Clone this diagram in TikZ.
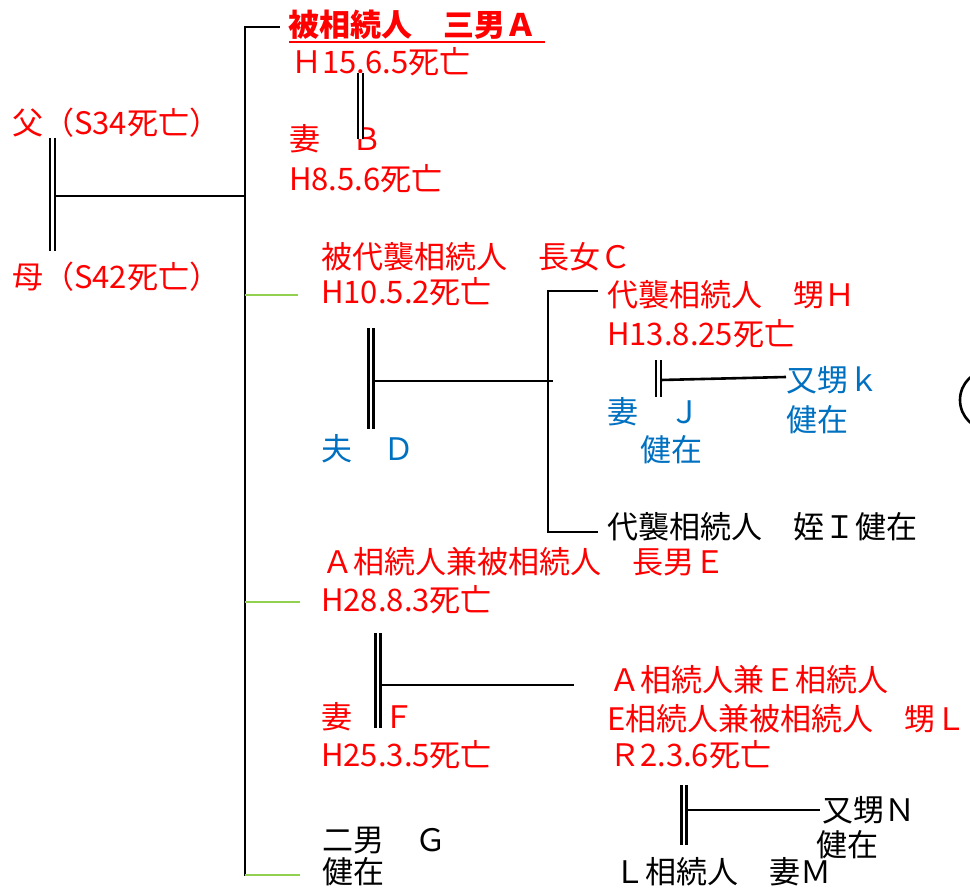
\documentclass[tikz,border=0pt]{standalone}
\usepackage{fontspec}
\setmainfont{Noto Sans CJK JP}
\definecolor{jred}{HTML}{FF0000}
\definecolor{jblue}{HTML}{0070C0}
\definecolor{jgreen}{HTML}{92D050}
\begin{document}
\begin{tikzpicture}[x=1pt,y=-1pt,
  lbl/.style={anchor=base west,inner sep=0pt,font=\fontsize{31}{31}\selectfont},
  rd/.style={lbl,text=jred},
  bl/.style={lbl,text=jblue},
  bk/.style={lbl,text=black},
  ln/.style={line width=2.6pt,black},
  gl/.style={line width=2.8pt,jgreen},
  dbl/.style={line width=2.3pt,double distance=2.6pt,draw=black}]
\useasboundingbox (0,0) rectangle (970,888);
% texts
\node[rd] (fa) at (12,135) {父（S34死亡）};
\node[rd] (mo) at (12,288) {母（S42死亡）};
\node[rd,font=\fontsize{31}{31}\selectfont\bfseries] (A) at (288,37) {被相続人　三男Ａ};
\node[rd] (Ad) at (291,74) {Ｈ15.6.5死亡};
\node[rd] (B) at (289,151) {妻　Ｂ};
\node[rd] (Bd) at (289,190) {H8.5.6死亡};
\node[rd] (C) at (321,268) {被代襲相続人　長女Ｃ};
\node[rd] (Cd) at (321,303) {H10.5.2死亡};
\node[bl] (D) at (321,460) {夫　Ｄ};
\node[rd] (H) at (607,306) {代襲相続人　甥Ｈ};
\node[rd] (Hd) at (607,345) {H13.8.25死亡};
\node[bl] (J) at (607,423) {妻　Ｊ};
\node[bl] (Jd) at (640,461) {健在};
\node[bl] (K) at (786,391) {又甥ｋ};
\node[bl] (Kd) at (786,431) {健在};
\node[bk] (I) at (607,538) {代襲相続人　姪Ｉ健在};
\node[rd] (E) at (322,573) {Ａ相続人兼被相続人　長男Ｅ};
\node[rd] (Ed) at (321,611) {H28.8.3死亡};
\node[rd] (F) at (321,728) {妻　Ｆ};
\node[rd] (Fd) at (321,766) {H25.3.5死亡};
\node[rd] (L1) at (609,691) {Ａ相続人兼Ｅ相続人};
\node[rd] (L2) at (607,730) {E相続人兼被相続人　甥Ｌ};
\node[rd] (Ld) at (609,766) {Ｒ2.3.6死亡};
\node[bk] (G) at (322,851) {二男　Ｇ};
\node[bk] (Gd) at (322,883) {健在};
\node[bk] (N) at (822,821) {又甥Ｎ};
\node[bk] (Nd) at (816,856) {健在};
\node[bk] (M) at (614,883) {Ｌ相続人　妻Ｍ};
% underline of A
\coordinate (uA1) at (289,42);
\coordinate (uA2) at (545,42);
\draw[line width=2.2pt,jred] (uA1) -- (uA2);
% coordinates of lines
\coordinate (p1) at (52.5,138); \coordinate (p2) at (52.5,251);
\coordinate (pm) at (55,196);
\coordinate (v1) at (245,27); \coordinate (v2) at (245,876);
\coordinate (vm) at (245,196);
\coordinate (vA) at (280,27);
\coordinate (vC0) at (245,295); \coordinate (vC) at (298,295);
\coordinate (vE0) at (245,602); \coordinate (vE) at (300,602);
\coordinate (vG0) at (245,875); \coordinate (vG) at (300,875);
\coordinate (ab1) at (360.5,73); \coordinate (ab2) at (360.5,139);
\coordinate (cd1) at (371,328); \coordinate (cd2) at (371,429);
\coordinate (cdm) at (373.5,381); \coordinate (cdc) at (553,381);
\coordinate (c1) at (548,291); \coordinate (c2) at (548,532);
\coordinate (cH) at (598,291); \coordinate (cI) at (598,532);
\coordinate (hj1) at (658.5,360); \coordinate (hj2) at (658.5,397);
\coordinate (hjm) at (661,380); \coordinate (hjk) at (786,377);
\coordinate (ef1) at (378,633); \coordinate (ef2) at (378,728);
\coordinate (efm) at (380.5,685); \coordinate (efl) at (574,685);
\coordinate (lm1) at (684,785); \coordinate (lm2) at (684,845);
\coordinate (lmm) at (686.5,810); \coordinate (lmn) at (820,810);
% connectors
\draw[ln] (pm) -- (vm);
\draw[dbl] (p1) -- (p2);
\draw[ln] (vA) -- (v1) -- (v2);
\draw[gl] (vC0) -- (vC);
\draw[gl] (vE0) -- (vE);
\draw[gl] (vG0) -- (vG);
\draw[dbl] (ab1) -- (ab2);
\draw[ln] (cdm) -- (cdc);
\draw[dbl] (cd1) -- (cd2);
\draw[ln] (cH) -- (c1) -- (c2) -- (cI);
\draw[ln] (hjm) -- (hjk);
\draw[dbl] (hj1) -- (hj2);
\draw[ln] (efm) -- (efl);
\draw[dbl] (ef1) -- (ef2);
\draw[ln] (lmm) -- (lmn);
\draw[dbl] (lm1) -- (lm2);
% partial circle at right edge
\begin{scope}
\clip (0,0) rectangle (970,888);
\draw[ln] (990,400) circle[radius=30];
\end{scope}
\end{tikzpicture}
\end{document}
